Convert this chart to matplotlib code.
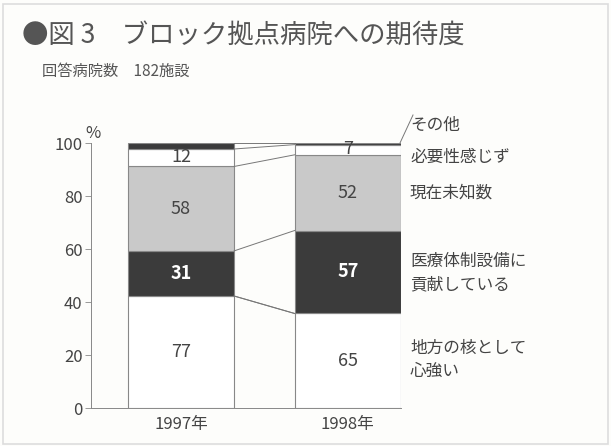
import matplotlib.pyplot as plt
from matplotlib.font_manager import fontManager
import numpy as np

# data (facility counts, 182 facilities total)
years = ['1997年', '1998年']
categories = ['地方の核として\n心強い', '医療体制設備に\n貢献している', '現在未知数', '必要性感じず', 'その他']
counts = {
    '1997年': [77, 31, 58, 12, 4],
    '1998年': [65, 57, 52, 7, 1],
}
total = 182
yticks = [0, 20, 40, 60, 80, 100]

seg_colors = ['white', '#3b3b3b', '#c9c9c9', 'white', '#3b3b3b']
text_colors = ['#444444', 'white', '#444444', '#444444', None]

names = {f.name for f in fontManager.ttflist}
num_font = ['Liberation Sans Narrow'] if 'Liberation Sans Narrow' in names else ['Noto Sans CJK JP']
jp_font = ['Noto Sans CJK JP', 'DejaVu Sans']
plt.rcParams['font.family'] = jp_font

fig = plt.figure(figsize=(6.11, 4.46), dpi=100, facecolor='#fdfdfb')
ax = fig.add_axes([0.149, 0.085, 0.507, 0.594])
ax.set_facecolor('#fdfdfb')

x = np.arange(len(years))
width = 0.637
tops = []
for i, yr in enumerate(years):
    pct = np.array(counts[yr]) / total * 100
    bottoms = np.concatenate([[0], np.cumsum(pct)[:-1]])
    tops.append(np.cumsum(pct))
    for j, (b, h) in enumerate(zip(bottoms, pct)):
        ax.bar(x[i], h, width, bottom=b, color=seg_colors[j], edgecolor='#888888', linewidth=0.8)
        if text_colors[j] is not None:
            yy = b + h / 2
            if j == 3:
                yy = b + h / 2 + 0.3
            ax.text(x[i], yy, str(counts[yr][j]), ha='center', va='center',
                    fontsize=13, color=text_colors[j], family=num_font,
                    fontweight='bold' if j == 1 else 'normal')

# connectors between bars
for k in range(len(categories)):
    ax.plot([x[0] + width / 2, x[1] - width / 2], [tops[0][k], tops[1][k]],
            color='#777777', linewidth=0.7)
ax.plot([x[0] + width / 2, x[1] - width / 2], [42.3, 35.7], color='#777777', linewidth=0.7)

ax.set_xlim(-0.54, x[1] + width / 2)
ax.set_ylim(0, 100)
ax.set_yticks(yticks)
ax.set_yticklabels([str(t) for t in yticks], family=num_font, fontsize=12, color='#444444')
ax.set_xticks(x)
ax.set_xticklabels(years, fontsize=12, color='#444444')
ax.tick_params(axis='y', length=4, width=0.6, color='#888888', pad=2)
ax.tick_params(axis='x', length=0, pad=6)
for s in ['top', 'right']:
    ax.spines[s].set_visible(False)
for s in ['left', 'bottom']:
    ax.spines[s].set_color('#888888')
    ax.spines[s].set_linewidth(0.7)

# % mark
fig.text(85 / 611, 1 - 133 / 446, '%', fontsize=12, color='#444444', family=num_font, ha='left', va='center')

# right side labels
label_y = [360, 273, 193, 157, 125]
for cat, py in zip(categories, label_y):
    fig.text(410 / 611, 1 - py / 446, cat, fontsize=12, color='#444444', ha='left', va='center',
             linespacing=1.45)
fig.add_artist(plt.Line2D([400 / 611, 413 / 611], [1 - 143 / 446, 1 - 115 / 446],
                          color='#777777', linewidth=0.7))

# title
fig.text(22 / 611, 1 - 35 / 446, '●図 3　ブロック拠点病院への期待度', fontsize=19, color='#555555',
         ha='left', va='center')
fig.text(42 / 611, 1 - 71 / 446, '回答病院数　182施設', fontsize=11, color='#555555',
         ha='left', va='center')

# frame
fig.add_artist(plt.Rectangle((0.005, 0.005), 0.99, 0.985, fill=False, edgecolor='#dddddd',
                             linewidth=1.2, transform=fig.transFigure))

fig.savefig('out.png', dpi=100, facecolor=fig.get_facecolor())
